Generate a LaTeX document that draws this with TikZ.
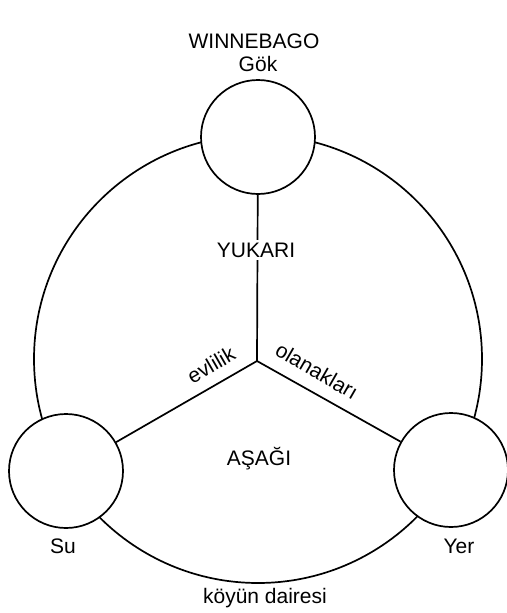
\documentclass[tikz,border=0pt]{standalone}
\usepackage{fontspec}
\setmainfont{Liberation Sans}
\begin{document}
\begin{tikzpicture}[x=1pt,y=-1pt,
  lbl/.style={font=\fontsize{21}{25}\selectfont, inner sep=1pt},
  place/.style={circle, draw, fill=white, line width=1.7pt, minimum size=114pt, inner sep=0pt},
  link/.style={line width=1.7pt}]
\useasboundingbox[fill=white] (0,0) rectangle (506,613);
% village circle
\node[circle, draw, line width=1.7pt, minimum size=448pt, inner sep=0pt] (ring) at (258,359) {};
\coordinate (hub) at (257,361);
% places
\node[place] (gok) at (258,137) {};
\node[place] (su) at (66,471) {};
\node[place] (yer) at (451,470) {};
% dividing lines
\draw[link] (hub) -- (gok);
\draw[link] (hub) -- (su);
\draw[link] (hub) -- (yer);
% labels
\node[lbl] (title) at (254,41) {WINNEBAGO};
\node[lbl] (lgok) at (258,64) {Gök};
\node[lbl, fill=white, inner sep=3pt] (yukari) at (256,250) {YUKARI};
\node[lbl] (asagi) at (259,459) {AŞAĞI};
\node[lbl] (lsu) at (63,546) {Su};
\node[lbl] (lyer) at (459,546) {Yer};
\node[lbl] (koy) at (265,598) {köyün dairesi};
\node[lbl, rotate=30] (evl) at (211,365) {evlilik};
\node[lbl, rotate=-30] (ola) at (317,371) {olanakları};
\end{tikzpicture}
\end{document}
